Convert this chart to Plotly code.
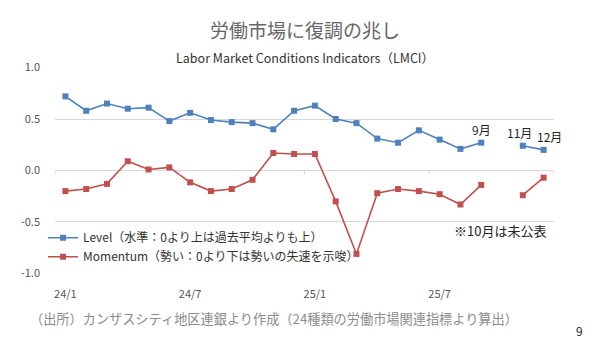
import plotly.graph_objects as go

months = ["24/1","24/2","24/3","24/4","24/5","24/6","24/7","24/8","24/9","24/10","24/11","24/12",
          "25/1","25/2","25/3","25/4","25/5","25/6","25/7","25/8","25/9","25/10","25/11","25/12"]
level = [0.72,0.58,0.65,0.60,0.61,0.48,0.56,0.49,0.47,0.46,0.40,0.58,
         0.63,0.50,0.46,0.31,0.27,0.39,0.30,0.21,0.27,None,0.24,0.20]
momentum = [-0.20,-0.18,-0.13,0.09,0.01,0.03,-0.115,-0.20,-0.18,-0.09,0.17,0.16,
            0.16,-0.30,-0.81,-0.22,-0.18,-0.20,-0.23,-0.33,-0.14,None,-0.24,-0.07]
tick_idx = [0, 6, 12, 18]
tick_text = ["24/1", "24/7", "25/1", "25/7"]
point_labels = {20: "9月", 22: "11月", 23: "12月"}

title = "労働市場に復調の兆し"
subtitle = "Labor Market Conditions Indicators（LMCI）"
name_level = "Level（水準：0より上は過去平均よりも上）"
name_mom = "Momentum（勢い：0より下は勢いの失速を示唆）"
note = "※10月は未公表"
source = "（出所）カンザスシティ地区連銀より作成（24種類の労働市場関連指標より算出）"
page = "9"

FONT = "Noto Sans CJK JP"
x = list(range(len(months)))

fig = go.Figure()
fig.add_trace(go.Scatter(x=x, y=level, name=name_level, mode="lines+markers",
                         line=dict(color="#4F81BD", width=1.6),
                         marker=dict(symbol="square", size=6, color="#4F81BD"),
                         connectgaps=False))
fig.add_trace(go.Scatter(x=x, y=momentum, name=name_mom, mode="lines+markers",
                         line=dict(color="#C0504D", width=1.6),
                         marker=dict(symbol="square", size=6, color="#C0504D"),
                         connectgaps=False))

# tick marks on the zero line at category boundaries
for k in range(0, len(months) + 1, 6):
    fig.add_shape(type="line", xref="x", yref="y", x0=k - 0.5, x1=k - 0.5, y0=0, y1=-0.04,
                  line=dict(color="#D9D9D9", width=1))

annotations = []
for i, t in point_labels.items():
    xs = 6 if i == 23 else (-3 if i == 22 else 0)
    annotations.append(dict(x=i, y=level[i], text=t, showarrow=False, xref="x", yref="y",
                            yshift=13, xshift=xs, font=dict(size=12, color="#222222", family=FONT)))
annotations += [
    dict(x=0.5, y=1, xref="paper", yref="paper", yanchor="middle", yshift=38, text=title, showarrow=False,
         font=dict(size=19, color="#666666", family=FONT)),
    dict(x=0.5, y=1, xref="paper", yref="paper", yanchor="middle", yshift=10, text=subtitle, showarrow=False,
         font=dict(size=12.5, color="#333333", family=FONT)),
    dict(x=0.795, y=0.155, xref="paper", yref="paper", xanchor="left", text=note, showarrow=False,
         font=dict(size=13, color="#222222", family=FONT)),
    dict(x=-0.054, y=0, xref="paper", yref="paper", xanchor="left", yanchor="middle", yshift=-44,
         text=source, showarrow=False, font=dict(size=13.2, color="#8c8c8c", family=FONT)),
    dict(x=1, y=0, xref="paper", yref="paper", xanchor="left", yanchor="middle", yshift=-56, xshift=20,
         text=page, showarrow=False, font=dict(size=12, color="#222222", family=FONT)),
]

fig.update_layout(
    width=600, height=354,
    margin=dict(l=55, r=46, t=67, b=80),
    paper_bgcolor="white", plot_bgcolor="white",
    font=dict(family=FONT, color="#555555"),
    showlegend=True,
    legend=dict(x=-0.024, y=0.245, xanchor="left", yanchor="top", bgcolor="rgba(0,0,0,0)",
                font=dict(size=12, color="#333333", family=FONT), tracegroupgap=0,
                itemwidth=30),
    annotations=annotations,
    xaxis=dict(range=[-0.5, len(months) - 0.5], tickvals=tick_idx, ticktext=tick_text,
               showgrid=False, zeroline=False, showline=False, ticks="",
               ticklabelstandoff=12, tickfont=dict(size=11, color="#555555", family=FONT)),
    yaxis=dict(range=[-1.005, 1.005], tickvals=[1, 0.5, 0, -0.5, -1],
               ticktext=["1.0", "0.5", "0.0", "-0.5", "-1.0"],
               showgrid=True, gridcolor="#D9D9D9", gridwidth=1, zeroline=False,
               showline=False, ticks="", ticklabelstandoff=14,
               tickfont=dict(size=11, color="#555555", family=FONT)),
)

fig.write_html("out.html")
